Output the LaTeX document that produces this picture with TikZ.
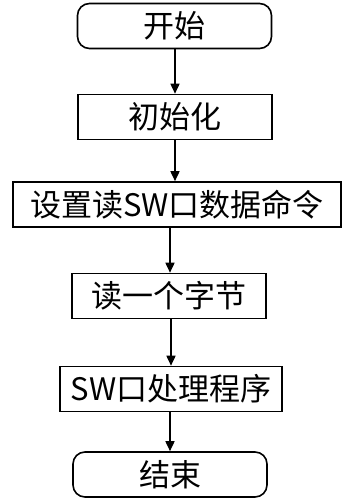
\documentclass[tikz,border=0pt]{standalone}
\usepackage{fontspec}
\setmainfont{Noto Sans CJK SC}
\usetikzlibrary{arrows.meta}

\begin{document}
\begin{tikzpicture}[x=1pt,y=-1pt,
  box/.style={draw, line width=1.6pt, minimum height=45pt, inner sep=0pt,
    font=\fontsize{31}{31}\selectfont},
  term/.style={box, rounded corners=12pt},
  flow/.style={line width=1.6pt, -{Triangle[length=10pt,width=9pt]}}]
\useasboundingbox (0,0) rectangle (344,498);
\node[term, minimum width=194pt] (start) at (174.5,26) {开始};
\node[box, minimum width=194pt] (init) at (175,117) {初始化};
\node[box, minimum width=328pt] (cmd) at (177,204.5) {设置读SW口数据命令};
\node[box, minimum width=194pt] (read) at (169,296) {读一个字节};
\node[box, minimum width=222pt] (proc) at (171,389) {SW口处理程序};
\node[term, minimum width=194pt] (stop) at (170,474.5) {结束};
\coordinate (a1) at ([xshift=1pt]read.north);
% arrows
\draw[flow] (init.north |- start.south) -- (init.north);
\draw[flow] (init.south) -- (init.south |- cmd.north);
\draw[flow] (a1 |- cmd.south) -- (a1);
\draw[flow] (proc.north |- read.south) -- (proc.north);
\draw[flow] (stop.north |- proc.south) -- (stop.north);
\end{tikzpicture}
\end{document}
